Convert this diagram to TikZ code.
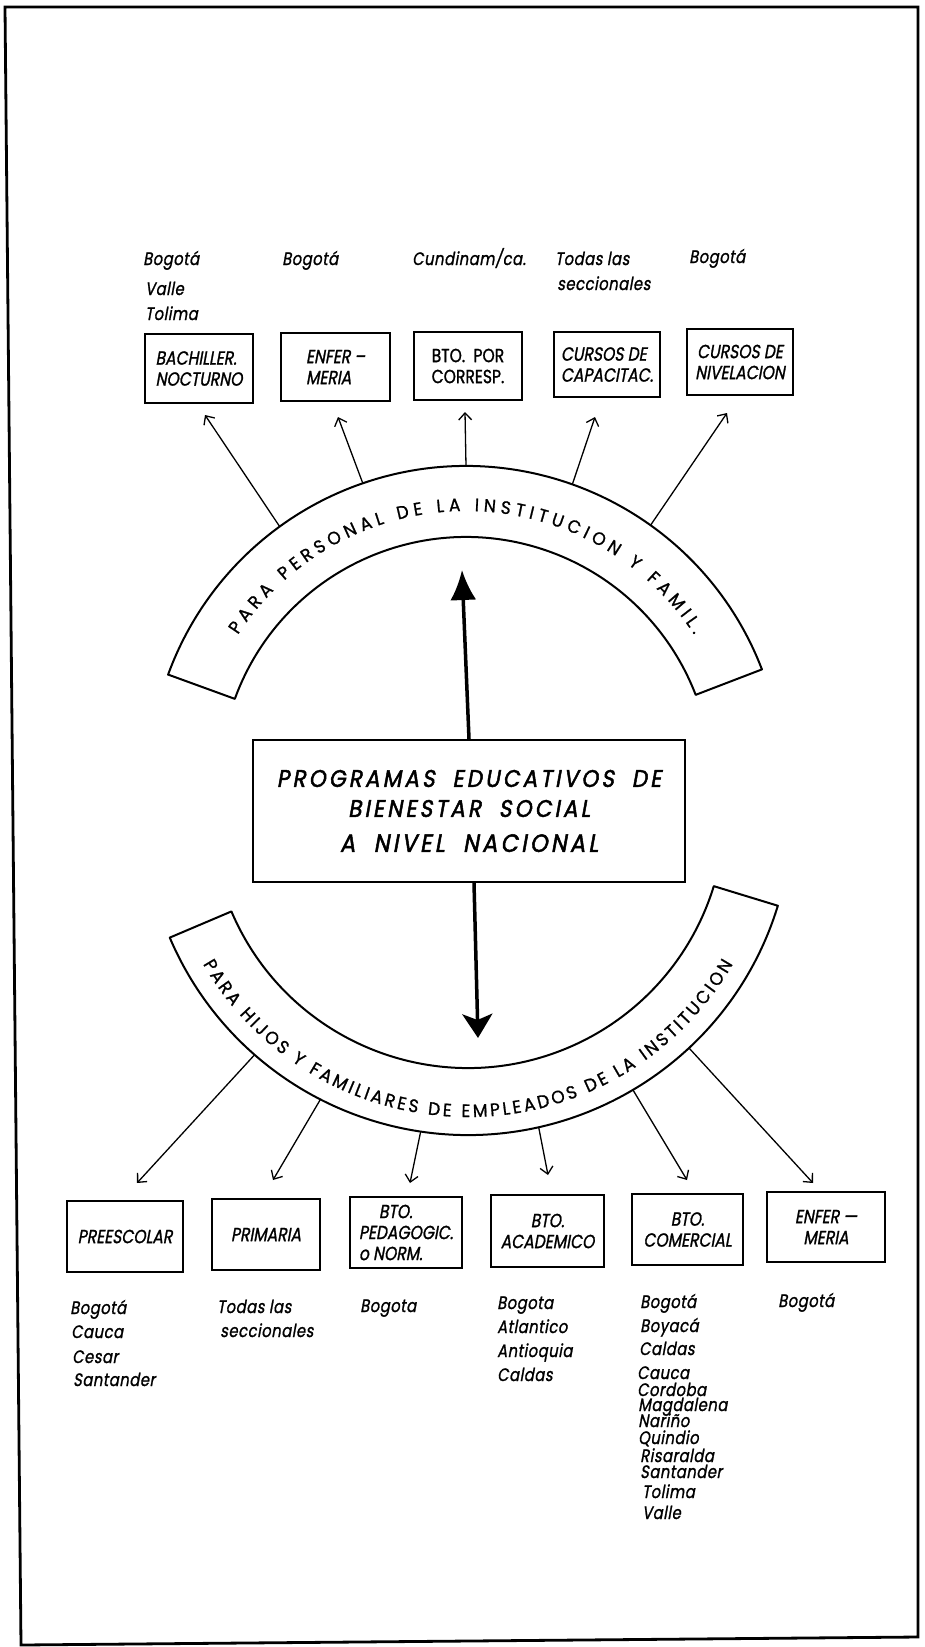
\documentclass[tikz,border=0pt]{standalone}
\usepackage{fontspec}
\setmainfont{Poppins}
\newfontfamily\letr{Poppins}[FakeSlant=0.18,FakeStretch=0.82,FakeBold=1.2]
\newfontfamily\letu{Poppins}[FakeStretch=0.82,FakeBold=1.2]
\newfontfamily\letp{Poppins}[FakeSlant=0.18,FakeStretch=0.82,FakeBold=1.2,LetterSpace=3]
\newfontfamily\letm{Poppins}[FakeSlant=0.18,FakeStretch=0.9,FakeBold=2,LetterSpace=13]
\newfontfamily\letb{Poppins}[FakeStretch=0.95,FakeBold=1]
\usetikzlibrary{arrows.meta,calc,decorations.text}
\begin{document}
\begin{tikzpicture}[x=1pt,y=-1pt,
  box/.style={draw,line width=1.8pt,inner sep=2pt,align=center,font=\letr\fontsize{19}{21}\selectfont},
  place/.style={anchor=base west,inner sep=0pt,font=\letp\fontsize{18}{18}\selectfont},
  band/.style={draw,line width=2pt,line join=round},
  thin/.style={line width=1.3pt,-{Straight Barb[length=7pt,width=13pt]}},
  bigup/.style={line width=3.5pt,-{Latex[length=30pt,width=26pt]}},
  bigdown/.style={line width=3.5pt,-{Stealth[length=24pt,width=30pt,inset=6pt]}},
]
\useasboundingbox (0,0) rectangle (925,1647);
\draw[line width=2.8pt] (5,7) -- (918,7) -- (918,1637) -- (21,1645) -- cycle;

\coordinate (U) at (466,783);
\coordinate (L) at (468,811);

% upper band
\draw[band] ($(U)+(-21:317)$) arc[start angle=-21,end angle=-160,radius=317]
  -- ($(U)+(-160:246)$) arc[start angle=-160,end angle=-21,radius=246] -- cycle;
\path[decorate,decoration={text along path,text align={fit to path},
  text={|\letb\fontsize{18}{18}\selectfont|PARA PERSONAL DE LA INSTITUCION Y FAMIL.}}]
  ($(U)+(-147:272)$) arc[start angle=-147,end angle=-33,radius=272];

% lower band
\draw[band] ($(L)+(17:324)$) arc[start angle=17,end angle=157,radius=324]
  -- ($(L)+(157:257)$) arc[start angle=157,end angle=17,radius=257] -- cycle;
\path[decorate,decoration={text along path,text align={fit to path},
  text={|\letb\fontsize{18}{18}\selectfont|PARA HIJOS Y FAMILIARES DE EMPLEADOS DE LA INSTITUCION}}]
  ($(L)+(150:306)$) arc[start angle=150,end angle=30,radius=306];

% central box
\node[draw,line width=2.2pt,minimum width=432pt,minimum height=142pt,inner sep=0pt,align=center,
  font=\letm\fontsize{24}{30}\selectfont] (main) at (469,811)
  {PROGRAMAS\ \ EDUCATIVOS\ \ DE\\BIENESTAR\ \ SOCIAL\\[5pt]{\fontsize{25}{30}\selectfont A\ \ NIVEL\ \ NACIONAL}};

% top boxes
\node[box,align=left,minimum width=108pt,minimum height=69pt] (t1) at (199,368.5) {BACHILLER.\\NOCTURNO};
\node[box,align=left,minimum width=109pt,minimum height=68pt] (t2) at (335.5,367) {ENFER –\\MERIA};
\node[box,align=left,font=\letu\fontsize{19}{21}\selectfont,minimum width=108pt,minimum height=68pt] (t3) at (468,366) {BTO.\ \ POR\\CORRESP.};
\node[box,align=left,minimum width=106pt,minimum height=65pt] (t4) at (607,364.5) {CURSOS DE\\CAPACITAC.};
\node[box,minimum width=106pt,minimum height=66pt] (t5) at (740,362) {CURSOS DE\\NIVELACION};

% top labels
\node[place] (l1a) at (143,265) {Bogotá};
\node[place] (l1b) at (145,295) {Valle};
\node[place] (l1c) at (145,320) {Tolima};
\node[place] (l2) at (282,265) {Bogotá};
\node[place] (l3) at (412,265) {Cundinam/ca.};
\node[place] (l4a) at (555,265) {Todas las};
\node[place] (l4b) at (557,290) {seccionales};
\node[place] (l5) at (689,263) {Bogotá};

% bottom boxes
\node[box,minimum width=116pt,minimum height=71pt] (b1) at (125,1236.5) {PREESCOLAR};
\node[box,minimum width=108pt,minimum height=71pt] (b2) at (266,1234.5) {PRIMARIA};
\node[box,align=left,minimum width=112pt,minimum height=71pt] (b3) at (406,1232.5) {\hspace*{20pt}BTO.\\PEDAGOGIC.\\o NORM.};
\node[box,minimum width=113pt,minimum height=72pt] (b4) at (547.5,1231) {BTO.\\ACADEMICO};
\node[box,minimum width=111pt,minimum height=71pt] (b5) at (687.5,1229.5) {BTO.\\COMERCIAL};
\node[box,minimum width=118pt,minimum height=70pt] (b6) at (826,1227) {ENFER —\\MERIA};

% bottom labels
\node[place] (p1a) at (70,1314) {Bogotá};
\node[place] (p1b) at (71,1338) {Cauca};
\node[place] (p1c) at (72,1363) {Cesar};
\node[place] (p1d) at (73,1386) {Santander};
\node[place] (p2a) at (217,1313) {Todas las};
\node[place] (p2b) at (220,1337) {seccionales};
\node[place] (p3a) at (360,1312) {Bogota};
\node[place] (p4a) at (497,1309) {Bogota};
\node[place] (p4b) at (497,1333) {Atlantico};
\node[place] (p4c) at (497,1357) {Antioquia};
\node[place] (p4d) at (497,1381) {Caldas};
\node[place] (p5a) at (640,1308) {Bogotá};
\node[place] (p5b) at (640,1332) {Boyacá};
\node[place] (p5c) at (639,1355) {Caldas};
\node[place] (p5d) at (637,1379) {Cauca};
\node[place] (p5e) at (637,1396) {Cordoba};
\node[place] (p5f) at (638,1411) {Magdalena};
\node[place] (p5g) at (638,1427) {Nariño};
\node[place] (p5h) at (638,1444) {Quindio};
\node[place] (p5i) at (640,1462) {Risaralda};
\node[place] (p5j) at (640,1478) {Santander};
\node[place] (p5k) at (642,1498) {Tolima};
\node[place] (p5l) at (642,1519) {Valle};
\node[place] (p6a) at (778,1307) {Bogotá};

% upper arrows
\coordinate (ua1) at ($(U)+(-126:317)$);
\coordinate (ua2) at ($(U)+(-109:317)$);
\coordinate (ua3) at ($(U)+(-90:317)$);
\coordinate (ua4) at ($(U)+(-70.4:317)$);
\coordinate (ua5) at ($(U)+(-54.4:317)$);
\coordinate (ut1) at (205,415);
\coordinate (ut2) at (338,417);
\coordinate (ut3) at (465,412);
\coordinate (ut4) at (595,417);
\coordinate (ut5) at (727,413);
\foreach \i in {1,...,5} \draw[thin] (ua\i) -- (ut\i);

% lower arrows
\coordinate (la1) at ($(L)+(131.2:324)$);
\coordinate (la2) at ($(L)+(117.1:324)$);
\coordinate (la3) at ($(L)+(98.4:324)$);
\coordinate (la4) at ($(L)+(77.4:324)$);
\coordinate (la5) at ($(L)+(59.4:324)$);
\coordinate (la6) at ($(L)+(47:324)$);
\coordinate (lt1) at (137,1183);
\coordinate (lt2) at (273,1180);
\coordinate (lt3) at (410,1183);
\coordinate (lt4) at (548,1175);
\coordinate (lt5) at (687,1180);
\coordinate (lt6) at (813,1183);
\foreach \i in {1,...,6} \draw[thin] (la\i) -- (lt\i);

% big arrows
\coordinate (upTip) at (462,570);
\coordinate (downTip) at (478,1038);
\draw[bigup] (main.north) -- (upTip);
\draw[bigdown] ([xshift=5pt]main.south) -- (downTip);
\end{tikzpicture}
\end{document}
